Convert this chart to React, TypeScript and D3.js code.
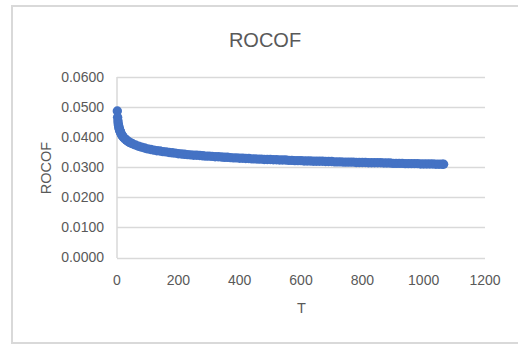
import React from "react";
import * as d3 from "d3";

const tValues = [
  1, 2, 3, 4, 5, 6, 7, 8, 9, 10, 12, 14, 16, 18, 20, 25, 30, 35, 40, 45, 50, 60, 70, 80, 90,
  100, 110, 120, 130, 140, 150, 160, 170, 180, 190,
  200, 210, 220, 230, 240, 250, 260, 270, 280, 290, 300, 310, 320, 330, 340, 350, 360, 370,
  380, 390, 400, 410, 420, 430, 440, 450, 460, 470, 480, 490, 500, 510, 520, 530, 540, 550,
  560, 570, 580, 590, 600, 610, 620, 630, 640, 650, 660, 670, 680, 690, 700, 710, 720, 730,
  740, 750, 760, 770, 780, 790, 800, 810, 820, 830, 840, 850, 860, 870, 880, 890, 900, 910,
  920, 930, 940, 950, 960, 970, 980, 990, 1000, 1010, 1020, 1030, 1040, 1050, 1060, 1065,
];
const rocofValues = [
  0.0487, 0.0466, 0.0454, 0.0445, 0.0439, 0.0434, 0.0429, 0.0426, 0.0422, 0.042, 0.0415,
  0.041, 0.0407, 0.0404, 0.0401, 0.0395, 0.0391, 0.0387, 0.0383, 0.0381, 0.0378, 0.0374,
  0.037, 0.0367, 0.0364, 0.0361, 0.0359, 0.0357, 0.0355, 0.0354, 0.0352, 0.0351, 0.0349,
  0.0348, 0.0347,
  0.0345, 0.0344, 0.0343, 0.0342, 0.0341, 0.034, 0.034, 0.0339, 0.0338, 0.0337, 0.0337,
  0.0336, 0.0335, 0.0335, 0.0334, 0.0333, 0.0333, 0.0332, 0.0331, 0.0331, 0.033, 0.033,
  0.0329, 0.0329, 0.0328, 0.0328, 0.0327, 0.0327, 0.0326, 0.0326, 0.0326, 0.0325, 0.0325,
  0.0324, 0.0324, 0.0324, 0.0323, 0.0323, 0.0322, 0.0322, 0.0322, 0.0321, 0.0321, 0.0321,
  0.032, 0.032, 0.032, 0.032, 0.0319, 0.0319, 0.0319, 0.0318, 0.0318, 0.0318, 0.0317,
  0.0317, 0.0317, 0.0317, 0.0316, 0.0316, 0.0316, 0.0316, 0.0315, 0.0315, 0.0315, 0.0315,
  0.0315, 0.0314, 0.0314, 0.0314, 0.0313, 0.0313, 0.0313, 0.0313, 0.0312, 0.0312, 0.0312,
  0.0312, 0.0312, 0.0311, 0.0311, 0.0311, 0.0311, 0.0311, 0.031, 0.031, 0.031, 0.031,
];
const xTicks = [0, 200, 400, 600, 800, 1000, 1200];
const yTicks = [0, 0.01, 0.02, 0.03, 0.04, 0.05, 0.06];
const title = "ROCOF";
const xTitle = "T";
const yTitle = "ROCOF";

const W = 518;
const H = 345;
const FONT = "'Liberation Sans', Arial, sans-serif";
const TEXT = "#595959";
const GRID = "#d9d9d9";

export default function App() {
  const x = d3.scaleLinear().domain([0, 1200]).range([117, 485]);
  const y = d3.scaleLinear().domain([0, 0.06]).range([257.5, 77]);
  const fmt = d3.format(".4f");
  const pts = tValues.map((t, i) => ({ t, v: rocofValues[i] }));
  return (
    <svg
      width={W}
      height={H}
      style={{ position: "absolute", left: 0, top: 0, background: "#fff" }}
      fontFamily={FONT}
    >
      <rect x={0} y={0} width={W} height={H} fill="#fff" />
      <rect x={12} y={6} width={W + 10} height={337} fill="none" stroke={GRID} strokeWidth={2} />
      <text x={265} y={47} textAnchor="middle" fontSize={20} fill={TEXT}>
        {title}
      </text>
      {yTicks.map((v) => (
        <g key={v}>
          <line x1={117} x2={485} y1={Math.round(y(v)) + 0.5} y2={Math.round(y(v)) + 0.5} stroke={GRID} strokeWidth={1.5} />
          <text x={104} y={y(v)} dy="0.35em" textAnchor="end" fontSize={14} fill={TEXT}>
            {fmt(v)}
          </text>
        </g>
      ))}
      <line x1={117} x2={117} y1={77} y2={258} stroke={GRID} strokeWidth={1.5} />
      {xTicks.map((t) => (
        <text key={t} x={x(t)} y={280} dy="0.35em" textAnchor="middle" fontSize={14} fill={TEXT}>
          {t}
        </text>
      ))}
      <text x={301.5} y={308} dy="0.35em" textAnchor="middle" fontSize={14.5} fill={TEXT}>
        {xTitle}
      </text>
      <text
        transform={`translate(46,168) rotate(-90)`}
        dy="0.35em"
        textAnchor="middle"
        fontSize={14.5}
        fill={TEXT}
      >
        {yTitle}
      </text>
      {pts.map((p) => (
        <circle key={p.t} cx={x(p.t)} cy={y(p.v)} r={4.7} fill="#4472c4" />
      ))}
    </svg>
  );
}
